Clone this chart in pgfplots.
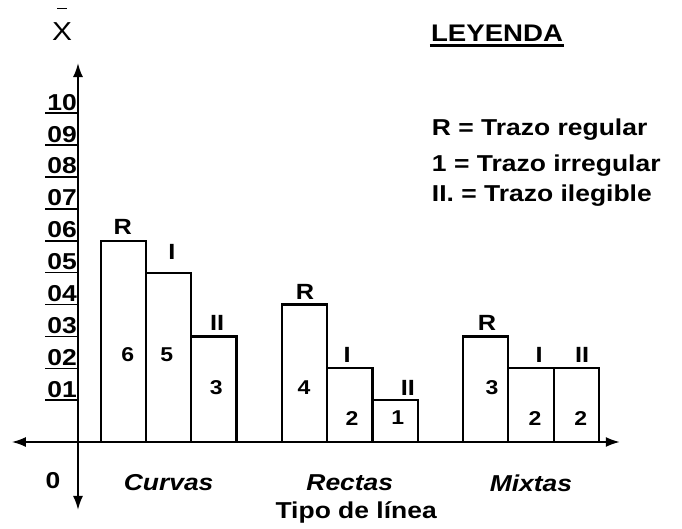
\documentclass[border=0pt]{standalone}
\usepackage{fontspec}
\setmainfont{Liberation Sans}[FakeStretch=1.15]
\usepackage{pgfplots}
\pgfplotsset{compat=1.18}
\usepackage{pgfplotstable}
\usetikzlibrary{arrows.meta}
\newcommand{\fb}[1]{\fontsize{#1}{#1}\selectfont\bfseries}

% x = bar position, v = value written in the bar
\pgfplotstableread{
x v
1 6
5 4
9 3
}\regular
\pgfplotstableread{
x v
2 5
6 2
10 2
}\irregular
\pgfplotstableread{
x v
3 3
7 1
11 2
}\ilegible

\begin{document}
\begin{tikzpicture}
\begin{axis}[
  x=45.3pt, y=31.9pt,
  xmin=-1.46, xmax=11.96, ymin=-2.13, ymax=11.88,
  enlargelimits=false, clip=false,
  axis lines=middle,
  axis line style={line width=1.8pt, {Latex[length=14pt,width=10pt]}-{Latex[length=14pt,width=10pt]}},
  every inner x axis line/.append style={{Latex[length=14pt,width=10pt]}-{Latex[length=14pt,width=10pt]}},
  every inner y axis line/.append style={{Latex[length=14pt,width=10pt]}-{Latex[length=14pt,width=10pt]}},
  /pgf/number format/assume math mode=true,
  ytick={1.31,2.31,3.31,4.31,5.31,6.31,7.31,8.31,9.31,10.31},
  yticklabels={01,02,03,04,05,06,07,08,09,10},
  tick align=outside,
  major tick length=33pt,
  ytick style={line width=1.6pt, black},
  xtick={2,6,10}, xticklabels={Curvas,Rectas,Mixtas},
  xtick style={draw=none},
  yticklabel style={anchor=south east, inner sep=1pt, xshift=33pt, yshift=1.5pt, font=\fb{23}},
  xticklabel style={anchor=center, yshift=-8pt, font=\fb{23}\itshape},
  xlabel={Tipo de línea},
  xlabel style={at={(axis cs:6.14,-2.2)}, anchor=center, font=\fb{23}},
  ylabel={\rule{10pt}{1.2pt}\\[5pt]X},
  ylabel style={at={(axis cs:-0.35,13.1)}, anchor=center, align=center, font=\fontsize{26}{26}\selectfont},
]
\addplot[ybar, bar width=1, bar shift=0pt, fill=white, draw=black, line width=2.2pt]
  table[x=x, y expr=\thisrow{v}+0.31] {\regular};
\addplot[ybar, bar width=1, bar shift=0pt, fill=white, draw=black, line width=2.2pt]
  table[x=x, y expr=\thisrow{v}+0.31] {\irregular};
\addplot[ybar, bar width=1, bar shift=0pt, fill=white, draw=black, line width=2.2pt]
  table[x=x, y expr=\thisrow{v}+0.31] {\ilegible};

\coordinate (O) at (axis cs:0,0);

% values inside bars
\begin{scope}[every node/.style={font=\fb{20}}]
\node at (axis cs:1.10,2.73) {6};
\node at (axis cs:1.96,2.73) {5};
\node at (axis cs:3.05,1.72) {3};
\node at (axis cs:4.99,1.69) {4};
\node at (axis cs:6.05,0.75) {2};
\node at (axis cs:7.06,0.75) {1};
\node at (axis cs:9.14,1.72) {3};
\node at (axis cs:10.09,0.75) {2};
\node at (axis cs:11.10,0.75) {2};
\end{scope}
% letters above bars
\begin{scope}[every node/.style={font=\fb{22}}]
\node at (axis cs:0.99,6.74) {R};
\node at (axis cs:2.07,5.96) {I};
\node at (axis cs:3.07,3.73) {II};
\node at (axis cs:5.01,4.70) {R};
\node at (axis cs:5.94,2.73) {I};
\node at (axis cs:7.28,1.69) {II};
\node at (axis cs:9.03,3.73) {R};
\node at (axis cs:10.18,2.73) {I};
\node at (axis cs:11.13,2.73) {II};
\end{scope}
\node[font=\fb{23}] at (axis cs:-0.55,-1.22) {0};
% legend
\node[font=\fb{24}, inner sep=1pt] (leg) at (axis cs:9.25,12.82) {LEYENDA};
\draw[line width=2.5pt] ([yshift=-3pt]leg.south west) -- ([yshift=-3pt]leg.south east);
\node[font=\fb{23}, anchor=west, inner sep=0pt] at (axis cs:7.81,9.78) {R = Trazo regular};
\node[font=\fb{23}, anchor=west, inner sep=0pt] at (axis cs:7.81,8.68) {1 = Trazo irregular};
\node[font=\fb{23}, anchor=west, inner sep=0pt] at (axis cs:7.81,7.71) {II. = Trazo ilegible};
\end{axis}
\pgfresetboundingbox
\path ([shift={(-78pt,-86pt)}]O) rectangle ([shift={(604pt,442pt)}]O);
\end{tikzpicture}
\end{document}
